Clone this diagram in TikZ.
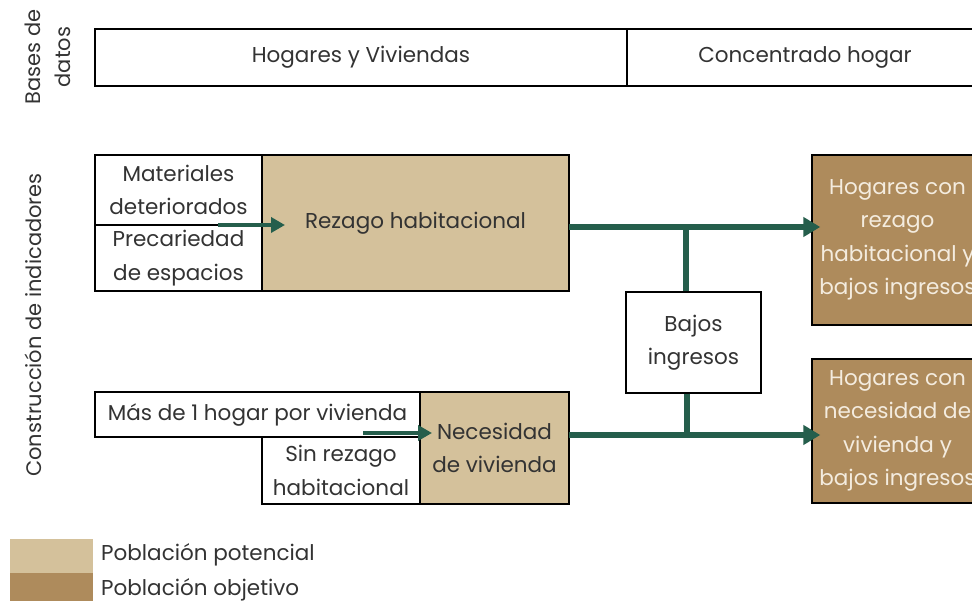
\documentclass[tikz,border=0pt]{standalone}
\usepackage{fontspec}
\setmainfont{Poppins}
\usetikzlibrary{arrows.meta}

\definecolor{potencial}{HTML}{D4C19B}
\definecolor{objetivo}{HTML}{AE8B5C}
\definecolor{verde}{HTML}{255E4C}
\definecolor{texto}{HTML}{333333}
\definecolor{claro}{HTML}{F4ECDF}

\begin{document}
\begin{tikzpicture}[x=1pt,y=-1pt,
  caja/.style={draw=black,line width=1.4pt,fill=white,inner sep=0pt,align=center,
    text=texto,font=\fontsize{21.5}{33.5}\selectfont},
  cajapot/.style={caja,fill=potencial},
  cajaobj/.style={caja,fill=objetivo,text=claro},
  flecha/.style={verde,line width=5.5pt,-{Triangle[length=17pt,width=19pt]}},
  flechita/.style={verde,line width=3.5pt,-{Triangle[length=14pt,width=15pt]}},
  linea/.style={verde,line width=5.5pt},
  rotulo/.style={rotate=90,align=center,text=texto,font=\fontsize{21}{30}\selectfont}]
\useasboundingbox (0,0) rectangle (972,601);
\clip (0,0) rectangle (972,601);
\node[rotulo] (bases) at (48,57) {Bases de\\datos};
\node[rotulo] (constr) at (33,325) {Construcción de indicadores};
\node[caja,minimum width=532,minimum height=57] (hyv) at (361,57.5) {Hogares y Viviendas};
\node[caja,minimum width=356,minimum height=57] (conc) at (805,57.5) {Concentrado hogar};
\node[caja,minimum width=167,minimum height=70] (mat) at (178.5,190) {Materiales\\deteriorados};
\node[caja,minimum width=167,minimum height=66] (prec) at (178.5,258) {Precariedad\\de espacios};
\node[cajapot,minimum width=307,minimum height=136] (rezago) at (415.5,223) {Rezago habitacional};
\node[caja,minimum width=135,minimum height=101] (bajos) at (693.5,342.5) {Bajos\\ingresos};
\node[cajaobj,minimum width=171,minimum height=170] (hog1) at (897.5,240) {Hogares con\\rezago\\habitacional y\\bajos ingresos};
\node[cajaobj,minimum width=171,minimum height=144] (hog2) at (897.5,431) {Hogares con\\necesidad de\\vivienda y\\bajos ingresos};
\node[caja,minimum width=325,minimum height=45] (mas) at (257.5,414.5) {Más de 1 hogar por vivienda};
\node[caja,minimum width=158,minimum height=67] (sin) at (341,470.5) {Sin rezago\\habitacional};
\node[cajapot,minimum width=149,minimum height=112] (nec) at (494.5,448) {Necesidad\\de vivienda};
\coordinate (a1) at (218,225);
\coordinate (a1t) at (285,225);
\coordinate (a2) at (363,433);
\coordinate (a2t) at (432,433);
\coordinate (r1) at (569,227);
\coordinate (r2) at (569,435);
\coordinate (j1) at (686,227);
\coordinate (j2) at (687,435);
\draw[flechita] (a1) -- (a1t);
\draw[flechita] (a2) -- (a2t);
\draw[flecha,shorten >=-9pt] (r1) -- (r1 -| hog1.west);
\draw[flecha,shorten >=-9pt] (r2) -- (r2 -| hog2.west);
\draw[linea] (j1) -- (j1 |- bajos.north);
\draw[linea] (j2 |- bajos.south) -- (j2);
\node[fill=potencial,minimum width=83,minimum height=34,inner sep=0pt] (legpot) at (51.5,556) {};
\node[fill=objetivo,minimum width=83,minimum height=37,inner sep=0pt] (legobj) at (51.5,591.5) {};
\node[anchor=west,text=texto,font=\fontsize{21.5}{24}\selectfont,inner sep=0pt] (txtpot) at (101,555) {Población potencial};
\node[anchor=west,text=texto,font=\fontsize{21.5}{24}\selectfont,inner sep=0pt] (txtobj) at (101,590) {Población objetivo};
\end{tikzpicture}
\end{document}
